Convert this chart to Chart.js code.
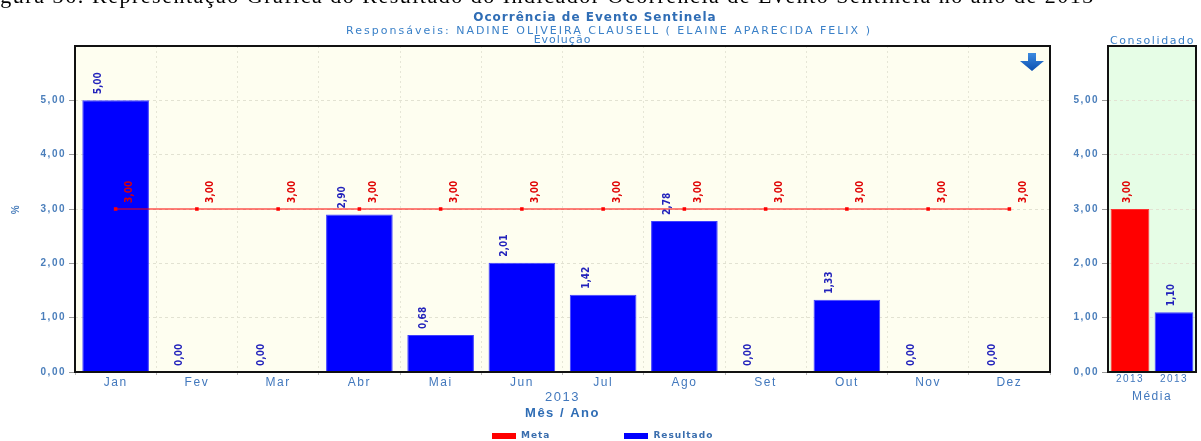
<!DOCTYPE html>
<html lang="pt-BR">
<head>
<meta charset="utf-8">
<script src="https://cdn.jsdelivr.net/npm/chart.js@4.4.1/dist/chart.umd.min.js"></script>
<style>
body{margin:0;width:1201px;height:441px;overflow:hidden;background:#fff;position:relative;font-family:"DejaVu Sans",Verdana,sans-serif;}
.abs{position:absolute;white-space:nowrap;z-index:2;}
#figura{left:-21px;top:-15px;line-height:22px;font-family:"Liberation Serif","Times New Roman",serif;font-size:22px;letter-spacing:1.5px;color:#000;}
#titulo{left:0;width:1190px;top:11px;line-height:13px;text-align:center;font-size:12px;font-weight:bold;color:#2f6db5;letter-spacing:1px;}
#resp{left:0;width:1218px;top:25px;line-height:12px;text-align:center;font-size:11px;color:#3a80c8;letter-spacing:2px;}
#evolucao{left:75px;width:975px;top:34px;line-height:11px;text-align:center;font-size:11px;color:#3a80c8;letter-spacing:1px;}
#consol{left:1105px;width:95px;top:35px;line-height:11px;text-align:center;font-size:11px;color:#3a80c8;letter-spacing:1.6px;}
#legenda{left:492px;top:430px;font-size:9px;font-weight:bold;color:#3a6eae;letter-spacing:1px;display:flex;line-height:10px;}
#legenda span.cx{display:inline-block;width:24px;height:6px;margin-right:5px;vertical-align:middle;}
#legenda div{margin-right:74px;}
canvas{position:absolute;top:0;z-index:1;}
</style>
</head>
<body>
<div class="abs" id="figura">Figura 36: Representação Gráfica do Resultado do Indicador Ocorrência de Evento Sentinela no ano de 2013</div>
<div class="abs" id="titulo">Ocorrência de Evento Sentinela</div>
<div class="abs" id="resp">Responsáveis: NADINE OLIVEIRA CLAUSELL ( ELAINE APARECIDA FELIX )</div>
<div class="abs" id="evolucao">Evolução</div>
<div class="abs" id="consol">Consolidado</div>
<canvas id="chartMensal" width="1058" height="441" style="left:0"></canvas>
<canvas id="chartMedia" width="141" height="441" style="left:1060px"></canvas>
<svg class="abs" style="left:1019px;top:53px" width="26" height="20" viewBox="0 0 26 20">
  <defs><linearGradient id="g" x1="0" y1="0" x2="0" y2="1"><stop offset="0" stop-color="#3d8be0"/><stop offset="1" stop-color="#0b4fb0"/></linearGradient></defs>
  <polygon points="9,0 17,0 17,8 25,8 13,18 1,8 9,8" fill="url(#g)"/>
</svg>
<div class="abs" id="legenda"></div>

<script>
// dados
const meses = ['Jan','Fev','Mar','Abr','Mai','Jun','Jul','Ago','Set','Out','Nov','Dez'];
const meta = [3.00,3.00,3.00,3.00,3.00,3.00,3.00,3.00,3.00,3.00,3.00,3.00];
const resultado = [5.00,0.00,0.00,2.90,0.68,2.01,1.42,2.78,0.00,1.33,0.00,0.00];
const anos = ['2013'];
const consLabels = ['2013','2013'];
const consValores = [3.00,1.10];
const yTicks = [0,1,2,3,4,5];

const VERMELHO = '#ff0000';
const AZUL = '#0000ff';
const AZUL_TXT = '#4278bd';

function fmt(v){ return Number(v).toFixed(2).replace('.', ','); }

/* fundo + moldura preta (e espacamento das letras dos eixos) */
const fundoMoldura = {
  id:'fundoMoldura',
  beforeDraw(chart, args, opts){
    const a = chart.chartArea, ctx = chart.ctx;
    ctx.letterSpacing = '1.5px';
    ctx.save();
    ctx.fillStyle = opts.fundo;
    ctx.fillRect(a.left, a.top, a.right-a.left, a.bottom-a.top);
    ctx.restore();
  },
  afterDraw(chart){
    const a = chart.chartArea, ctx = chart.ctx;
    ctx.save();
    ctx.strokeStyle = '#111';
    ctx.lineWidth = 2;
    ctx.strokeRect(a.left, a.top, a.right-a.left, a.bottom-a.top);
    ctx.restore();
    ctx.letterSpacing = '0px';
  }
};

/* rotulos verticais */
const rotulos = {
  id:'rotulos',
  afterDatasetsDraw(chart){
    const ctx = chart.ctx;
    chart.data.datasets.forEach((ds,i)=>{
      const m = chart.getDatasetMeta(i);
      m.data.forEach((el,j)=>{
        const cor = Array.isArray(ds.rotuloCor) ? ds.rotuloCor[j] : ds.rotuloCor;
        ctx.save();
        ctx.letterSpacing = '0px';
        ctx.translate(el.x + (ds.rotuloDx||0), el.y - 6);
        ctx.rotate(-Math.PI/2);
        ctx.font = 'bold 10px "Liberation Sans Narrow","DejaVu Sans Condensed",sans-serif';
        ctx.fillStyle = cor;
        ctx.textAlign = 'left';
        ctx.textBaseline = 'middle';
        ctx.fillText(fmt(ds.data[j]), 0, 0);
        ctx.restore();
      });
    });
  }
};

function eixoY(largura){
  return {
    min:0, max:6,
    afterBuildTicks(s){ s.ticks = yTicks.map(v=>({value:v})); },
    ticks:{ callback:v=>fmt(v), color:'#4a7ebb', font:{size:10,weight:'bold'}, padding:3 },
    grid:{ color:'#e2e2d2', tickColor:'#999', tickLength:6 },
    border:{ display:false, dash:[3,3] },
    afterFit(s){ s.width = largura; }
  };
}

const yMensal = eixoY(75);
yMensal.title = { display:true, text:'%', color:'#4a7ebb', font:{size:10,weight:'bold'}, padding:{top:10,bottom:0} };

new Chart(document.getElementById('chartMensal'), {
  data:{
    labels: meses,
    datasets:[
      { type:'line', label:'Meta', data:meta, borderColor:VERMELHO, backgroundColor:VERMELHO,
        borderWidth:1, pointStyle:'rect', pointRadius:2.5, pointBorderWidth:0, order:0,
        rotuloCor:'#e00000', rotuloDx:14 },
      { type:'bar', label:'Resultado', data:resultado, backgroundColor:AZUL, borderColor:'#4040ff',
        borderWidth:1, barPercentage:0.82, categoryPercentage:1, order:1,
        rotuloCor:'#2222bb', rotuloDx:-17 }
    ]
  },
  options:{
    responsive:false, animation:false,
    layout:{ padding:{ top:46, right:8, bottom:19, left:0 } },
    plugins:{ legend:{display:false}, tooltip:{enabled:false}, fundoMoldura:{ fundo:'#fefef0' } },
    scales:{
      x:{
        ticks:{ color:AZUL_TXT, font:{size:12}, padding:0 },
        grid:{ color:'#e6e6d6', tickColor:'#bbb', tickLength:3, offset:true },
        border:{ display:false, dash:[2,3] },
        afterFit(s){ s.height = 18; }
      },
      ano:{
        type:'category', labels:anos, position:'bottom', offset:true,
        ticks:{ color:AZUL_TXT, font:{size:13}, padding:0 },
        grid:{ display:false, drawTicks:false },
        border:{ display:false },
        title:{ display:true, text:'Mês / Ano', color:'#2f6db5', font:{size:13,weight:'bold'}, padding:{top:0,bottom:1} },
        afterFit(s){ s.height = 32; }
      },
      y: yMensal
    }
  },
  plugins:[fundoMoldura, rotulos]
});

new Chart(document.getElementById('chartMedia'), {
  type:'bar',
  data:{
    labels: consLabels,
    datasets:[
      { label:'Média', data:consValores, backgroundColor:[VERMELHO, AZUL], borderColor:['#ff3030','#4040ff'],
        borderWidth:1, barPercentage:0.88, categoryPercentage:1,
        rotuloCor:['#e00000','#2222bb'], rotuloDx:-3 }
    ]
  },
  options:{
    responsive:false, animation:false,
    layout:{ padding:{ top:46, right:5, bottom:37, left:0 } },
    plugins:{ legend:{display:false}, tooltip:{enabled:false}, fundoMoldura:{ fundo:'#e6fde6' } },
    scales:{
      x:{
        ticks:{ color:AZUL_TXT, font:{size:10}, padding:1 },
        grid:{ display:false, drawTicks:false },
        border:{ display:false },
        title:{ display:true, text:'Média', color:AZUL_TXT, font:{size:12}, padding:{top:0,bottom:0} },
        afterFit(s){ s.height = 32; }
      },
      y: eixoY(48)
    }
  },
  plugins:[fundoMoldura, rotulos]
});

/* legenda */
const leg = document.getElementById('legenda');
[['Meta',VERMELHO],['Resultado',AZUL]].forEach(([t,c])=>{
  const d = document.createElement('div');
  d.innerHTML = '<span class="cx" style="background:'+c+'"></span>'+t;
  leg.appendChild(d);
});
</script>
</body>
</html>
